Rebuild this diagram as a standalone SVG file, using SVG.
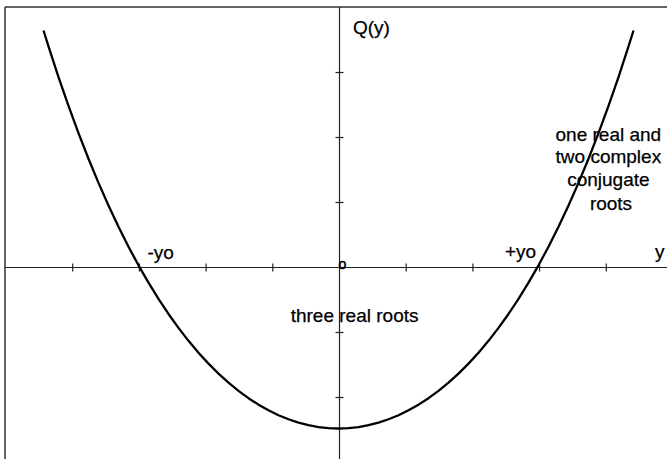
<svg xmlns="http://www.w3.org/2000/svg" width="667" height="459" viewBox="0 0 667 459">
<style>
.frame{stroke:#333;stroke-width:1.5;fill:none}
.axis{stroke:#222;stroke-width:1.2;fill:none}
.tick{stroke:#222;stroke-width:1.2}
.curve{stroke:#000;stroke-width:2.3;fill:none;stroke-linejoin:round;stroke-linecap:butt}
text{font-family:"Liberation Sans",Arial,Helvetica,sans-serif;font-size:19px;fill:#000;stroke:#000;stroke-width:0.25}
.small{font-size:14px;stroke-width:0.5}
</style>
<rect width="667" height="459" fill="#fff"/>
<g id="frame">
<line class="frame" x1="5" y1="7" x2="667" y2="7"/>
<line class="frame" x1="5" y1="7" x2="5" y2="459"/>
</g>
<g id="axes">
<line class="axis" x1="5" y1="267.5" x2="667" y2="267.5"/>
<line class="axis" x1="339.5" y1="7" x2="339.5" y2="459"/>
<g id="xticks">
<line class="tick" x1="72.7" y1="263.5" x2="72.7" y2="271.5"/>
<line class="tick" x1="139.4" y1="263.5" x2="139.4" y2="271.5"/>
<line class="tick" x1="206.1" y1="263.5" x2="206.1" y2="271.5"/>
<line class="tick" x1="272.8" y1="263.5" x2="272.8" y2="271.5"/>
<line class="tick" x1="406.2" y1="263.5" x2="406.2" y2="271.5"/>
<line class="tick" x1="472.9" y1="263.5" x2="472.9" y2="271.5"/>
<line class="tick" x1="539.6" y1="263.5" x2="539.6" y2="271.5"/>
<line class="tick" x1="606.3" y1="263.5" x2="606.3" y2="271.5"/>
</g>
<g id="yticks">
<line class="tick" x1="335.5" y1="72.5" x2="343.5" y2="72.5"/>
<line class="tick" x1="335.5" y1="137.5" x2="343.5" y2="137.5"/>
<line class="tick" x1="335.5" y1="202.5" x2="343.5" y2="202.5"/>
<line class="tick" x1="335.5" y1="332.5" x2="343.5" y2="332.5"/>
<line class="tick" x1="335.5" y1="397.5" x2="343.5" y2="397.5"/>
</g>
</g>
<g id="curve">
<polyline class="curve" points="43.5,30.5 48.5,46.45 58.5,77.04 68.5,105.91 78.5,133.12 88.5,158.75 98.5,182.86 108.5,205.52 118.5,226.77 128.5,246.68 138.5,265.31 148.5,282.69 158.5,298.9 168.5,313.96 178.5,327.92 188.5,340.84 198.5,352.73 208.5,363.65 218.5,373.62 228.5,382.68 238.5,390.85 248.5,398.17 258.5,404.65 268.5,410.31 278.5,415.19 288.5,419.28 298.5,422.62 308.5,425.2 318.5,427.03 328.5,428.13 338.5,428.5 348.5,428.13 358.5,427.03 368.5,425.2 378.5,422.62 388.5,419.28 398.5,415.19 408.5,410.31 418.5,404.65 428.5,398.17 438.5,390.85 448.5,382.68 458.5,373.62 468.5,363.65 478.5,352.73 488.5,340.84 498.5,327.92 508.5,313.96 518.5,298.9 528.5,282.69 538.5,265.31 548.5,246.68 558.5,226.77 568.5,205.52 578.5,182.86 588.5,158.75 598.5,133.12 608.5,105.91 618.5,77.04 628.5,46.45 633.5,30.5"/>
</g>
<g id="labels">
<text id="qy" x="353" y="34">Q(y)</text>
<text id="neg-yo" x="147.5" y="259">-yo</text>
<text id="pos-yo" x="505" y="258">+yo</text>
<text id="y-label" x="655" y="258">y</text>
<text id="origin" class="small" x="338.5" y="268.5">o</text>
<text id="three" x="290.7" y="321.5">three real roots</text>
<text id="one" text-anchor="middle">
<tspan x="611" y="140.5">one real and</tspan>
<tspan x="611" y="163">two complex</tspan>
<tspan x="611" y="186">conjugate</tspan>
<tspan x="611" y="209.5">roots</tspan>
</text>
</g>
</svg>
